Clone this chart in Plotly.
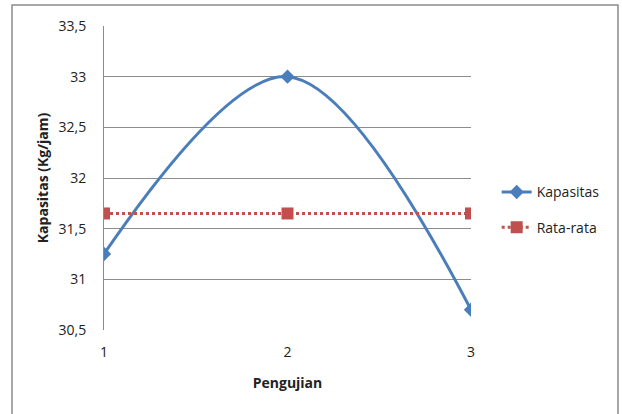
import plotly.graph_objects as go

pengujian = [1, 2, 3]
kapasitas = [31.25, 33.0, 30.7]
rata_rata = [31.65, 31.65, 31.65]
y_ticks = [30.5, 31, 31.5, 32, 32.5, 33, 33.5]

FONT = "Open Sans"

fig = go.Figure()
fig.add_trace(go.Scatter(
    x=pengujian, y=kapasitas, name="Kapasitas", mode="lines+markers",
    legendgroup="k",
    line=dict(color="#4A7EBB", width=3, shape="spline", smoothing=1.0),
    marker=dict(symbol="diamond", size=11, color="#4A7EBB"),
))
fig.add_trace(go.Scatter(
    x=pengujian, y=rata_rata, name="Rata-rata", mode="lines+markers",
    legendgroup="r",
    line=dict(color="#C0504D", width=3, dash="dot"),
    marker=dict(symbol="square", size=12, color="#C0504D"),
))

fig.update_layout(
    width=622, height=414,
    margin=dict(l=104, r=151, t=26, b=84),
    paper_bgcolor="white", plot_bgcolor="white",
    separators=", ",
    font=dict(family=FONT, size=14, color="#222222"),
    showlegend=True,
    legend=dict(x=1.07, y=0.395, xanchor="left", yanchor="middle",
                font=dict(family=FONT, size=14, color="#222222"),
                itemwidth=30, tracegroupgap=14, bgcolor="rgba(0,0,0,0)"),
    xaxis=dict(
        range=[1, 3], tickvals=pengujian, ticktext=[str(v) for v in pengujian],
        showgrid=False, zeroline=False, showline=False, ticks="",
        ticklabelstandoff=12,
        tickfont=dict(size=14),
        title=dict(text="<b>Pengujian</b>", font=dict(size=14), standoff=18),
    ),
    yaxis=dict(
        range=[30.5, 33.5], tickvals=y_ticks,
        showgrid=True, gridcolor="#8C8C8C", gridwidth=1,
        zeroline=False, showline=True, linecolor="#8C8C8C", linewidth=1,
        ticks="", ticklen=0, ticklabelstandoff=14,
        tickfont=dict(size=14),
        title=dict(text="<b>Kapasitas (Kg/jam)</b>", font=dict(size=14), standoff=6),
    ),
    shapes=[dict(type="rect", xref="paper", yref="paper",
                 x0=-0.2507, x1=1.4005, y0=-0.28, y1=1.069,
                 line=dict(color="#8C8C8C", width=1.5), layer="below")],
)

fig.write_html("out.html")
